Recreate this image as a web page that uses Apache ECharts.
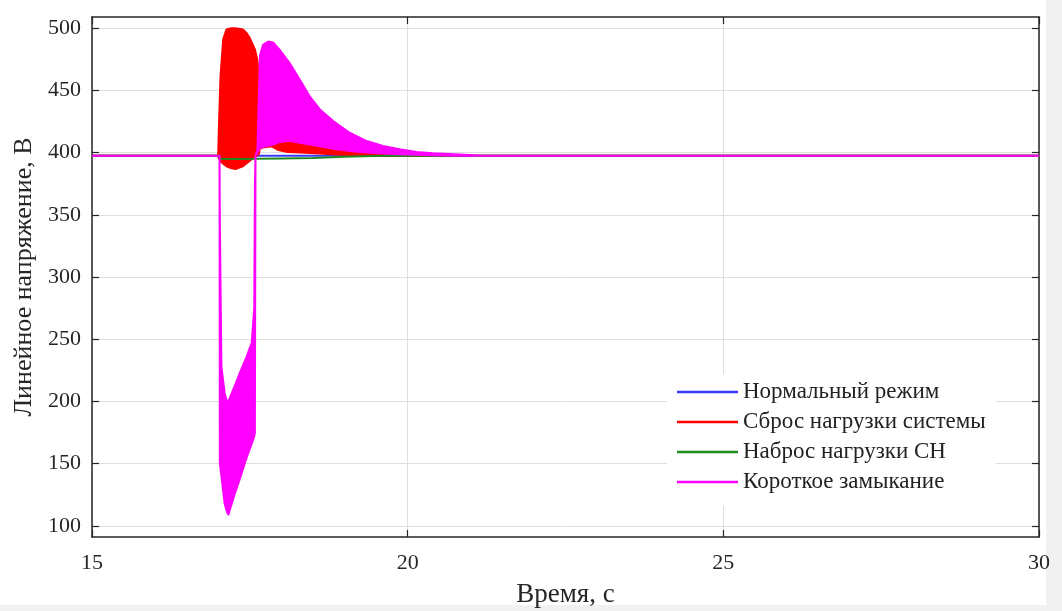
<!DOCTYPE html>
<html><head><meta charset="utf-8">
<script src="https://cdn.jsdelivr.net/npm/echarts@6/dist/echarts.min.js"></script>
<style>html,body{margin:0;padding:0;background:#fff}#c{width:1062px;height:611px}</style>
</head><body><div id="c"></div>
<script>
const seriesNames = ['Нормальный режим', 'Сброс нагрузки системы', 'Наброс нагрузки СН', 'Короткое замыкание'];
const seriesColors = ['#3a3aff', '#ff0000', '#1e8a1e', '#ff00ff'];
const xTicks = [15, 20, 25, 30];
const yTicks = [100, 150, 200, 250, 300, 350, 400, 450, 500];

// Нормальный режим
const normalT = [15, 30];
const normalV = [397.5, 397.5];

// Сброс нагрузки системы (envelope of oscillation)
const dropT     = [15, 16.998, 17.01, 17.035, 17.078, 17.13, 17.2, 17.27, 17.39, 17.45, 17.5, 17.58, 17.62, 17.645, 17.655, 17.7, 17.85, 17.95, 18.1, 18.3, 18.6, 18.85, 19.1, 19.4, 19.8, 30];
const dropUpper = [397.5, 397.5, 420, 461, 491, 499, 500, 500, 499, 496, 492, 483, 474, 460, 412, 407, 408, 410, 409.5, 408, 405, 402, 400.5, 399, 397.5, 397.5];
const dropLower = [397.5, 397.5, 395, 393, 391, 389, 387.5, 386.7, 389, 391.5, 393.5, 396.5, 398, 399, 403, 404, 405, 402, 400.5, 400, 399.3, 398.5, 398, 397.7, 397.5, 397.5];

// Наброс нагрузки СН
const surgeT = [15, 17.0, 17.03, 17.3, 17.6, 18.0, 18.5, 19.0, 19.6, 30];
const surgeV = [397.5, 397.5, 395, 394.8, 395, 395.3, 395.7, 396.6, 397.5, 397.5];

// Короткое замыкание (envelope of oscillation)
const faultT     = [15, 17.02, 17.025, 17.05, 17.10, 17.14, 17.16, 17.25, 17.35, 17.45, 17.53, 17.57, 17.58, 17.59, 17.62, 17.64, 17.66, 17.71, 17.79, 17.87, 17.97, 18.13, 18.29, 18.45, 18.61, 18.82, 19.08, 19.35, 19.61, 19.87, 20.14, 20.40, 20.82, 21.2, 30];
const faultUpper = [397.5, 397.5, 344, 228, 207, 199, 200, 211, 224, 236, 247, 275, 372, 397.5, 402, 440, 478, 486.7, 489.3, 488.5, 482.7, 472, 458.7, 445, 434.7, 425.3, 416, 409.3, 405.3, 402.7, 400.5, 399.5, 398.4, 397.5, 397.5];
const faultLower = [397.5, 397.5, 150, 140, 118, 111, 109, 124, 139, 155, 166, 172, 175, 397.5, 400, 402, 404, 404.5, 405.5, 406.5, 408.5, 409.5, 408, 406.5, 405, 403, 401.3, 400, 399.2, 398.6, 398.2, 397.8, 397.5, 397.5, 397.5];

const FONT = 'Liberation Serif';
const AX = '#262626';

function zip(t, v) { return t.map((x, i) => [x, v[i]]); }

function envelope(name, color, T, U, L, z) {
  return {
    type: 'custom', name: name, coordinateSystem: 'cartesian2d', z: z,
    xAxisIndex: 0, yAxisIndex: 0, clip: true, silent: true,
    itemStyle: { color: color },
    data: [[T[0], U[0]]],
    renderItem: function (params, api) {
      const pts = [];
      for (let i = 0; i < T.length; i++) pts.push(api.coord([T[i], U[i]]));
      for (let i = T.length - 1; i >= 0; i--) pts.push(api.coord([T[i], L[i]]));
      return { type: 'polygon', shape: { points: pts },
        style: { fill: color, stroke: color, lineWidth: 2, lineJoin: 'round' } };
    }
  };
}

const chart = echarts.init(document.getElementById('c'), null, { renderer: 'canvas' });
const axisLine = { show: true, onZero: false, lineStyle: { color: AX, width: 1.5 } };
const tick = { show: true, inside: true, length: 7, lineStyle: { color: AX, width: 1.2 } };
chart.setOption({
  animation: false,
  backgroundColor: '#ffffff',
  graphic: [
    { type: 'rect', left: 1046, top: 0, shape: { width: 16, height: 611 }, style: { fill: '#f1f1f1' }, silent: true, z: -10 },
    { type: 'rect', left: 0, top: 605, shape: { width: 1062, height: 6 }, style: { fill: '#f1f1f1' }, silent: true, z: -10 }
  ],
  grid: { left: 92, right: 23, top: 17, bottom: 74, containLabel: false, outerBoundsMode: 'none' },
  legend: {
    orient: 'vertical', left: 667, top: 374, z: 20,
    padding: [6, 10, 12, 10],
    backgroundColor: '#ffffff',
    icon: 'rect', itemWidth: 61, itemHeight: 2.5, itemGap: 6,
    textStyle: { fontFamily: FONT, fontSize: 23, lineHeight: 24, color: '#222' },
    data: seriesNames
  },
  xAxis: [
    { type: 'value', min: xTicks[0], max: xTicks[xTicks.length - 1], interval: 5, position: 'bottom',
      axisLine: axisLine, axisTick: tick,
      axisLabel: { fontFamily: FONT, fontSize: 22, color: AX, margin: 15 },
      splitLine: { show: true, lineStyle: { color: '#dedede', width: 1 } },
      name: 'Время, с', nameLocation: 'middle', nameGap: 44,
      nameTextStyle: { fontFamily: FONT, fontSize: 27, color: AX } },
    { type: 'value', min: xTicks[0], max: xTicks[xTicks.length - 1], interval: 5, position: 'top',
      axisLine: axisLine, axisTick: tick, axisLabel: { show: false }, splitLine: { show: false } }
  ],
  yAxis: [
    { type: 'value', min: 91, max: 509, position: 'left',
      axisLine: axisLine,
      axisTick: Object.assign({ customValues: yTicks }, tick),
      axisLabel: { customValues: yTicks, fontFamily: FONT, fontSize: 22, color: AX, margin: 11 },
      splitLine: { show: true, lineStyle: { color: '#dedede', width: 1 } },
      name: 'Линейное напряжение, В', nameLocation: 'middle', nameGap: 55, nameRotate: 90,
      nameTextStyle: { fontFamily: FONT, fontSize: 26, color: AX } },
    { type: 'value', min: 91, max: 509, position: 'right',
      axisLine: axisLine,
      axisTick: Object.assign({ customValues: yTicks }, tick),
      axisLabel: { show: false }, splitLine: { show: false } }
  ],
  series: [
    { type: 'line', name: seriesNames[0], z: 2, data: zip(normalT, normalV), showSymbol: false, silent: true,
      itemStyle: { color: seriesColors[0] }, lineStyle: { color: seriesColors[0], width: 2 } },
    envelope(seriesNames[1], seriesColors[1], dropT, dropUpper, dropLower, 3),
    { type: 'line', name: seriesNames[2], z: 4, data: zip(surgeT, surgeV), showSymbol: false, silent: true,
      itemStyle: { color: seriesColors[2] }, lineStyle: { color: seriesColors[2], width: 2 } },
    envelope(seriesNames[3], seriesColors[3], faultT, faultUpper, faultLower, 5)
  ]
});
</script>
</body></html>
